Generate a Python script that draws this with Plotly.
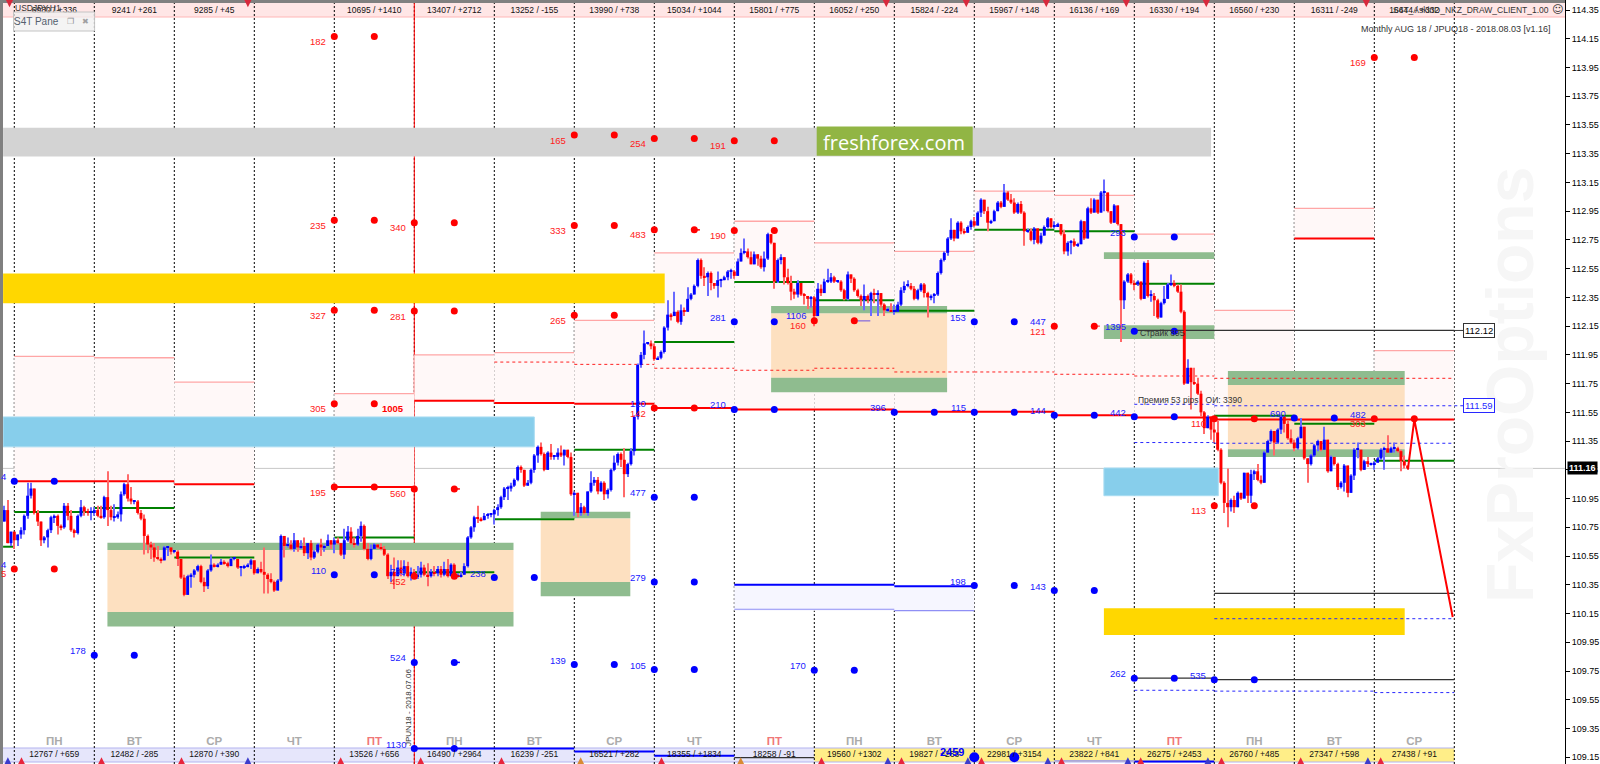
import plotly.graph_objects as go

# ---------- bars (price x 100), hour -3 onward, one row = one day ----------
closes = [
 11087,11064,11072,
 11066,11070,11073,11083,11097,11102,11085,11079,11066,11068,11073,11082,11083,11076,11075,11090,11083,11073,11071,11083,11089,11086,11085,11085,
 11087,11083,11082,11096,11087,11082,11082,11084,11098,11105,11095,11093,11093,11085,11081,11069,11063,11061,11054,11053,11052,11061,11061,11058,
 11058,11053,11040,11028,11041,11042,11045,11048,11037,11034,11045,11049,11048,11049,11051,11050,11048,11053,11053,11047,11047,11048,11049,11052,
 11043,11046,11044,11042,11039,11037,11031,11038,11069,11062,11063,11060,11066,11061,11062,11057,11064,11054,11058,11063,11061,11062,11066,11063,
 11066,11064,11056,11066,11072,11064,11063,11069,11076,11060,11053,11060,11063,11061,11060,11056,11041,11044,11041,11047,11043,11048,11041,11044,
 11041,11042,11047,11042,11041,11044,11043,11046,11042,11046,11041,11049,11041,11041,11042,11048,11068,11075,11082,11081,11080,11083,11084,11084,
 11087,11089,11096,11102,11102,11104,11108,11117,11115,11104,11106,11115,11125,11131,11126,11115,11127,11124,11124,11127,11125,11129,11124,11098,
 11099,11085,11089,11085,11100,11106,11108,11100,11106,11098,11101,11115,11120,11126,11122,11112,11119,11128,11152,11188,11195,11203,11203,11201,
 11192,11193,11197,11214,11223,11222,11225,11218,11226,11225,11234,11237,11243,11261,11250,11249,11252,11245,11243,11247,11247,11249,11253,11253,
 11250,11260,11266,11267,11263,11258,11265,11262,11256,11262,11279,11273,11246,11261,11263,11249,11245,11239,11237,11245,11237,11236,11234,11235,
 11222,11241,11238,11246,11246,11249,11246,11246,11240,11234,11251,11248,11240,11236,11233,11236,11233,11238,11237,11238,11230,11226,11226,11225,
 11225,11230,11240,11243,11243,11241,11234,11240,11244,11238,11235,11236,11237,11252,11261,11266,11276,11282,11276,11287,11281,11280,11284,11288,
 11285,11294,11303,11295,11287,11288,11295,11301,11298,11308,11303,11301,11294,11300,11294,11281,11281,11275,11283,11273,11278,11284,11290,11284,
 11284,11286,11279,11267,11273,11274,11271,11272,11288,11276,11297,11294,11303,11294,11308,11308,11295,11287,11299,11286,11233,11246,11251,11245,
 11244,11246,11234,11259,11236,11236,11233,11221,11231,11234,11244,11245,11243,11239,11225,11175,11186,11176,11175,11168,11155,11144,11152,11143,
 11141,11129,11106,11092,11089,11094,11089,11099,11095,11113,11097,11112,11114,11108,11106,11127,11135,11142,11134,11143,11152,11147,11137,11134,
 11130,11137,11145,11123,11119,11125,11132,11135,11129,11136,11114,11124,11119,11103,11106,11118,11099,11111,11129,11129,11115,11121,11119,11119,
 11120,11123,11129,11130,11127,11130,11130,11128,11121,11118,11116]
highs = [
 11090,11094,11072,
 11072,11070,11075,11084,11106,11106,11102,11087,11079,11069,11074,11083,11084,11084,11077,11092,11092,11087,11074,11084,11094,11090,11088,11089,
 11089,11090,11090,11097,11114,11090,11091,11086,11100,11106,11112,11103,11094,11094,11087,11084,11070,11065,11064,11062,11054,11062,11062,11061,
 11059,11059,11051,11042,11042,11043,11046,11049,11049,11040,11046,11056,11050,11050,11053,11052,11051,11054,11054,11053,11048,11049,11050,11053,
 11052,11047,11051,11061,11043,11043,11038,11039,11070,11068,11068,11066,11071,11065,11066,11068,11064,11066,11059,11064,11067,11063,11070,11066,
 11068,11068,11064,11074,11076,11075,11068,11074,11079,11077,11064,11063,11064,11063,11064,11062,11057,11049,11054,11052,11052,11052,11051,11047,
 11046,11048,11051,11049,11050,11046,11048,11048,11048,11051,11053,11050,11050,11043,11044,11050,11069,11076,11083,11090,11082,11085,11085,11085,
 11088,11091,11097,11103,11104,11106,11109,11118,11118,11115,11108,11116,11126,11132,11134,11127,11128,11133,11125,11130,11132,11129,11129,11127,
 11100,11099,11092,11090,11100,11114,11110,11110,11107,11107,11102,11116,11125,11127,11127,11130,11120,11130,11153,11189,11197,11212,11204,11205,
 11203,11194,11198,11215,11233,11224,11239,11226,11230,11228,11242,11238,11244,11262,11262,11256,11253,11253,11245,11253,11248,11250,11254,11255,
 11254,11262,11269,11276,11269,11267,11267,11265,11264,11267,11280,11279,11273,11262,11265,11263,11255,11250,11241,11247,11245,11238,11236,11236,
 11236,11245,11244,11248,11255,11252,11250,11247,11247,11241,11253,11251,11249,11241,11237,11244,11237,11239,11241,11240,11238,11231,11228,11231,
 11230,11232,11242,11246,11247,11245,11243,11241,11245,11245,11239,11237,11238,11253,11262,11267,11277,11290,11282,11288,11288,11283,11285,11289,
 11291,11295,11304,11303,11298,11289,11296,11302,11302,11314,11309,11307,11304,11301,11302,11295,11283,11283,11284,11283,11280,11285,11291,11290,
 11288,11287,11286,11282,11274,11275,11276,11273,11289,11288,11298,11304,11304,11302,11309,11317,11308,11295,11300,11298,11286,11247,11252,11252,
 11247,11247,11246,11260,11261,11240,11238,11234,11232,11243,11245,11251,11247,11244,11244,11226,11192,11186,11186,11179,11170,11156,11153,11152,
 11150,11149,11130,11107,11116,11095,11097,11100,11099,11113,11113,11115,11115,11119,11111,11128,11136,11143,11141,11144,11153,11152,11149,11143,
 11136,11138,11151,11145,11123,11126,11133,11136,11134,11145,11136,11125,11124,11120,11107,11119,11118,11112,11130,11134,11129,11122,11124,11120,
 11121,11124,11130,11131,11139,11131,11134,11131,11129,11125,11118]
lows = [
 11079,11064,11062,
 11060,11062,11067,11070,11081,11095,11084,11076,11062,11064,11061,11071,11078,11070,11073,11074,11080,11072,11068,11070,11082,11083,11083,11080,
 11083,11082,11081,11081,11076,11080,11079,11081,11079,11097,11093,11091,11091,11084,11080,11056,11057,11053,11051,11052,11050,11054,11055,11056,
 11057,11048,11039,11027,11028,11033,11040,11044,11036,11030,11032,11044,11047,11047,11049,11049,11047,11048,11052,11046,11041,11046,11047,11046,
 11042,11043,11043,11029,11029,11036,11030,11032,11037,11054,11061,11059,11058,11058,11060,11055,11053,11052,11053,11057,11055,11058,11064,11060,
 11057,11063,11055,11053,11065,11063,11061,11062,11065,11059,11052,11052,11060,11060,11059,11055,11039,11037,11032,11041,11041,11041,11040,11038,
 11039,11039,11040,11041,11034,11040,11041,11041,11040,11041,11040,11041,11040,11040,11040,11042,11047,11067,11072,11078,11079,11081,11081,11082,
 11077,11083,11088,11094,11094,11100,11103,11107,11113,11103,11104,11105,11113,11120,11125,11114,11120,11122,11122,11122,11124,11118,11123,11097,
 11083,11082,11083,11084,11083,11099,11104,11098,11101,11094,11095,11100,11114,11118,11117,11096,11110,11118,11125,11150,11186,11192,11202,11199,
 11191,11192,11192,11196,11212,11219,11222,11217,11216,11222,11225,11233,11237,11242,11248,11243,11236,11240,11241,11235,11242,11247,11247,11248,
 11248,11250,11260,11265,11262,11258,11258,11257,11255,11253,11261,11272,11241,11245,11258,11244,11244,11233,11234,11235,11236,11230,11227,11228,
 11215,11222,11236,11238,11245,11245,11245,11245,11239,11233,11233,11245,11239,11235,11229,11226,11231,11222,11231,11222,11228,11222,11225,11225,
 11223,11226,11229,11238,11242,11240,11233,11233,11239,11235,11221,11233,11231,11236,11251,11260,11264,11275,11274,11278,11279,11279,11280,11282,
 11284,11286,11291,11293,11281,11286,11292,11295,11297,11299,11302,11300,11293,11293,11293,11271,11280,11274,11272,11272,11272,11278,11283,11283,
 11283,11284,11278,11265,11264,11265,11270,11270,11272,11275,11276,11293,11294,11293,11294,11295,11294,11286,11287,11285,11204,11227,11245,11244,
 11240,11243,11233,11236,11235,11232,11222,11220,11221,11230,11235,11243,11242,11238,11224,11174,11175,11157,11174,11167,11152,11140,11144,11136,
 11134,11128,11105,11085,11075,11086,11085,11089,11094,11095,11092,11092,11108,11107,11105,11106,11127,11134,11125,11133,11140,11141,11136,11133,
 11128,11129,11137,11122,11106,11118,11124,11128,11128,11129,11113,11114,11118,11101,11102,11100,11096,11099,11108,11123,11114,11115,11117,11118,
 11115,11120,11122,11115,11127,11127,11127,11127,11114,11116,11115]
first_open = 11079

# ---------- day rows ----------
weekdays = ["ПН","ВТ","СР","ЧТ","ПТ","ПН","ВТ","СР","ЧТ","ПТ","ПН","ВТ","СР","ЧТ","ПТ","ПН","ВТ","СР"]
top_labels = ["6980 / +336","9241 / +261","9285 / +45","","10695 / +1410","13407 / +2712","13252 / -155","13990 / +738",
              "15034 / +1044","15801 / +775","16052 / +250","15824 / -224","15967 / +148","16136 / +169","16330 / +194",
              "16560 / +230","16311 / -249","16644 / +332"]
bottom_labels = ["12767 / +659","12482 / -285","12870 / +390","","13526 / +656","16490 / +2964","16239 / -251","16521 / +282",
                 "18355 / +1834","18258 / -91","19560 / +1302","19827 / +268","22981 / +3154","23822 / +841","26275 / +2453",
                 "26760 / +485","27347 / +598","27438 / +91"]
arrow_up_red_k = [0.09,1.09,2.09,4.08,5.08,6.09,8.09,10.09,11.09,12.09,13.09,14.08,15.09,16.08,17.08]
arrow_up_blue_k = [-0.08,2.92,10.92,11.92,12.92,13.92,14.92,16.92]
arrow_up_orange_k = [7.08,9.08]
arrow_down_k = [-0.06,2.92,10.9,11.9,12.9,13.9,14.9,16.9]

# ---------- option dots: each level has a dot at day k and k+0.5 ----------
red_k = [4,4,4,4,4,5,5,5,5,7,7,7,8,8,8,9,9,10,13,15,15,17,17,0]
red_p = [114.165,112.887,112.26,111.61,111.03,112.87,112.255,111.017,110.41,113.48,112.85,112.225,113.455,112.82,111.58,
         113.44,112.815,112.187,112.15,111.505,110.90,114.02,111.505,110.46]
red_lbl = ["182","235","327","305","195","340","281","560","452","165","333","265","254","483","142","191","190","160",
           "121","110","113","169","303","5"]
blue_k = [0,1,4,5,5,6,7,8,8,8,9,9,10,11,12,12,12,13,13,14,14,14,14,15,16]
blue_p = [111.07,109.86,110.42,109.81,109.21,110.40,109.795,109.76,110.96,110.37,112.18,111.57,109.755,111.55,112.18,111.55,
          110.345,111.53,110.31,112.77,112.115,111.52,109.70,109.69,111.51]
blue_lbl = ["4","178","110","524","1130","238","139","105","477","279","281","210","170","396","153","115","198","144","143",
            "293","1395","442","262","535","690"]
extra_blue_k = [10,13,17,5,8,0]
extra_blue_p = [112.19,112.15,111.505,110.41,111.58,110.46]
extra_blue_lbl = ["1106","447","482","733","120","4"]
big_dot_k = [12,12.5]
big_dot_p = [109.15,109.15]
tail_k = [5.5,5.5,5.5,8.5,10.5,13.5]
tail_p = [111.017,110.41,109.81,112.82,112.187,112.15]
tail_len = [0.07,0.07,0.07,0.07,0.2,0.07]
tail_col = ["#ff0000","#ff0000","#0000ff","#ff0000","#9a7fd8","#ff6060"]

# ---------- day segments ----------
red_seg = [(0,2,111.07),(2,3,111.05),(4,5,111.03),(5,6,111.63),(6,7,111.615),(7,8,111.61),(8,9,111.58),(9,11,111.57),
           (11,13,111.555),(13,14,111.53),(14,15,111.515),(15,18,111.50),(16,17,112.76)]
green_seg = [(-0.14,0,110.615),(0,1,110.857),(1,2,110.885),(2,3,110.54),(4,5,110.68),(5,6,110.437),(6,7,110.807),(7,8,111.29),
             (8,9,112.04),(9,10,112.457),(10,11,112.33),(11,12,112.257),(12,13,112.82),(13,14,112.81),(14,15,112.445),
             (15,16,111.527),(16,17,111.47),(17,18,111.214)]
pale_k = [0,1,2,4,5,6,7,8,9,10,11,12,13,14,15,16,17]
pale_top = [111.94,111.93,111.76,111.68,111.95,111.965,112.19,112.66,112.88,112.73,112.67,113.09,113.06,112.79,112.26,112.97,111.98]
pale_bot = [111.07,111.07,111.05,111.03,111.63,111.615,111.61,111.58,111.57,111.57,111.555,111.555,111.53,111.515,111.50,112.76,111.50]
red_dash = [(6,7,111.90),(7,8,111.884),(8,9,111.857),(9,10,111.843),(10,11,111.857),(11,12,111.831),(12,13,111.831),
            (13,14,111.815),(14,15,111.803),(15,18,111.787)]
blue_dash = [(14,15,111.606),(15,18,111.596),(14,15,111.34),(15,18,111.335),(15,18,110.114),(14,15,109.616),(15,17,109.61),(17,18,109.60)]
black_seg = [(14,18,112.12),(15,18,110.29),(16,17,111.50),(14,15,109.70),(15,18,109.69),(9,10,109.147)]
blue_thick = [(5,7,109.21),(7,8,109.19),(8,9,109.16),(9,11,110.35),(11,12,110.34),(14,15,109.12)]
blue_thin = [(9,11,110.18),(11,12,110.17),(13,14,109.125)]

# ---------- zones ----------
gray_zone = (-0.14,14.96,113.53,113.33)
gold_zones = [(-0.14,8.13,112.516,112.31),(13.62,17.38,110.187,110.0)]
sky_zones = [(-0.14,6.5,111.518,111.31),(13.62,15.05,111.163,110.97)]
bisque_zones = [(1.164,6.24,110.592,110.16),(6.58,7.7,110.813,110.37),(9.46,11.66,112.239,111.79),(15.17,17.38,111.74,111.293)]
green_zones = [(1.164,6.24,110.643,110.592),(1.164,6.24,110.16,110.06),(6.58,7.7,110.859,110.813),(6.58,7.7,110.37,110.27),
               (9.46,11.66,112.29,112.239),(9.46,11.66,111.79,111.69),(15.17,17.38,111.838,111.74),(15.17,17.38,111.293,111.24),
               (13.62,15.0,112.664,112.617),(13.62,15.0,112.156,112.06)]
lilac_zone = (9,12,110.35,110.17)
zig_k = [17.42,17.5,17.98]
zig_p = [111.154,111.50,110.126]
last_price = 111.16
strike_tag = 112.12
premium_tag = 111.59

# ---------- geometry of the picture ----------
W, H = 1600, 764
L, R = 3, 1565
PX_PER_HOUR = 80/24
X0 = 14.3
def hr_of_px(px): return (px-X0)/PX_PER_HOUR
def price_of_py(py): return 114.35-(py-10)/143.7
def xp(px): return (px-L)/(R-L)
def yp(py): return 1-py/H
def D(k): return 24*k

FONT = "Liberation Sans"
hours = list(range(-3,-3+len(closes)))
assert len(closes)==len(highs)==len(lows)
opens = [first_open]+closes[:-1]
body_low = [min(a,b)/100 for a,b in zip(opens,closes)]
body_h = [max(abs(a-b)/100,0.008) for a,b in zip(opens,closes)]
wick_low = [min(a,b,d)/100 for a,b,d in zip(lows,opens,closes)]
wick_h = [(max(a,b,d)-min(e,b,d))/100 for a,e,b,d in zip(highs,lows,opens,closes)]
body_col = ["#0000ff" if b>=a else "#ff0000" for a,b in zip(opens,closes)]
wick_col = ["#6a6aff" if b>=a else "#ff6a6a" for a,b in zip(opens,closes)]

shapes=[]
def rect(k0,k1,p0,p1,fill,layer="below",line=None,lw=0):
    shapes.append(dict(type="rect",xref="x",yref="y",x0=D(k0),x1=D(k1),y0=p0,y1=p1,fillcolor=fill,layer=layer,
                       line=dict(width=lw,color=line or fill)))
def pxrect(x0,x1,y0,y1,fill,line=None,lw=0,layer="below"):
    shapes.append(dict(type="rect",xref="paper",yref="paper",x0=xp(x0),x1=xp(x1),y0=yp(y0),y1=yp(y1),fillcolor=fill,layer=layer,
                       line=dict(width=lw,color=line or fill)))
def seg(k0,k1,p,color,w=1,dash="solid"):
    shapes.append(dict(type="line",xref="x",yref="y",x0=D(k0),x1=D(k1),y0=p,y1=p,layer="below",line=dict(color=color,width=w,dash=dash)))

# pale day boxes
for k,t,b in zip(pale_k,pale_top,pale_bot):
    rect(k,k+1,b,t,"#fff8f8")
    seg(k,k+1,t,"#ffa6a6",1.3)
# zones
rect(*gray_zone,"#d3d3d3")
for z in gold_zones: rect(*z,"#ffd700")
for z in sky_zones: rect(*z,"#87ceeb",line="#a8dcf2",lw=1)
for z in bisque_zones: rect(*z,"#fde0c0")
for z in green_zones: rect(*z,"#8fbc8f")
rect(*lilac_zone,"#f6f6ff")
# strips
pxrect(L,R,3,17,"#ffe6e6")
shapes.append(dict(type="line",xref="paper",yref="paper",x0=0,x1=1,y0=yp(17),y1=yp(17),layer="below",line=dict(color="#ffb6b6",width=1.2)))
x10=X0+80*10; x18=X0+80*18
pxrect(L,x10,748,762,"#e6e6fb")
pxrect(x10,x18,748,762,"#ffee88")
for y_ in (748,762):
    shapes.append(dict(type="line",xref="paper",yref="paper",x0=0,x1=xp(x18),y0=yp(y_),y1=yp(y_),layer="below",line=dict(color="#b4b4f0",width=1.2)))
# last price line
shapes.append(dict(type="line",xref="paper",x0=0,x1=1,yref="y",y0=last_price,y1=last_price,layer="below",line=dict(color="#c8c8c8",width=1)))
# day separators
for k in range(0,19):
    shapes.append(dict(type="line",xref="x",yref="paper",x0=D(k),x1=D(k),y0=0,y1=yp(3),layer="below",
                       line=dict(color="#000000",width=1,dash="2px,2px")))
# levels
for a,b,p in red_dash: seg(a,b,p,"#ff2020",1,"3px,3px")
for a,b,p in blue_dash: seg(a,b,p,"#2828ff",1,"3px,3px")
seg(18,hr_of_px(1465)/24,112.12,"#333333",1)
seg(18,hr_of_px(1465)/24,111.596,"#2828ff",1,"3px,3px")
for a,b,p in black_seg: seg(a,b,p,"#333333",1.2)
for a,b,p in blue_thick: seg(a,b,p,"#0000ff",2)
for a,b,p in blue_thin: seg(a,b,p,"#8f8ff5",1.2)
for a,b,p in green_seg: seg(a,b,p,"#008000",2)
for a,b,p in red_seg: seg(a,b,p,"#ff0000",2)
# red expiry line
shapes.append(dict(type="line",xref="x",yref="paper",x0=D(5),x1=D(5),y0=0,y1=yp(3),layer="below",line=dict(color="#ff0000",width=1)))
# frame bits
pxrect(-3,L,0,H,"#808080")
pxrect(-3,R,0,3,"#808080")
# freshforex badge and pane
rect(10.03,11.98,113.54,113.335,"#91b544")
pxrect(13.5,94.6,12,31,"rgba(240,240,240,0.75)",line="#c4c4c4",lw=1,layer="above")

fig=go.Figure()
fig.add_trace(go.Bar(x=hours,y=wick_h,base=wick_low,width=0.33,marker=dict(color=wick_col,line=dict(width=0)),hoverinfo="skip"))
fig.add_trace(go.Bar(x=hours,y=body_h,base=body_low,width=0.88,marker=dict(color=body_col,line=dict(width=0)),hoverinfo="skip"))
# zigzag
fig.add_trace(go.Scatter(x=[D(k) for k in zig_k],y=zig_p,mode="lines",line=dict(color="#ff0000",width=2)))
# tails
for k,p,l,col in zip(tail_k,tail_p,tail_len,tail_col):
    fig.add_trace(go.Scatter(x=[D(k),D(k+l)],y=[p,p],mode="lines",line=dict(color=col,width=1.5)))
# dots
def dots(ks,ps,color,size=7):
    xs=[];ys=[]
    for k,p in zip(ks,ps):
        xs+=[D(k),D(k+0.5)]; ys+=[p,p]
    fig.add_trace(go.Scatter(x=xs,y=ys,mode="markers",marker=dict(color=color,size=size,line=dict(width=0))))
dots(blue_k,blue_p,"#0000ff")
dots(red_k,red_p,"#ff0000")
fig.add_trace(go.Scatter(x=[D(k) for k in big_dot_k],y=big_dot_p,mode="markers",marker=dict(color="#0000ff",size=10)))
# strip arrows
def arrows(ks,y,color,sym):
    fig.add_trace(go.Scatter(x=[D(k) for k in ks],y=[y]*len(ks),mode="markers",
                             marker=dict(color=color,size=8,symbol=sym,line=dict(width=0))))
arrows(arrow_up_red_k,109.15,"#e8243c","arrow-up")
arrows(arrow_up_blue_k,109.15,"#3c3ccc","arrow-up")
arrows(arrow_up_orange_k,109.15,"#d88a34","arrow-up")
arrows(arrow_down_k,114.37,"#d8283c","arrow-down")
# day text rows
mid=[D(k+0.5) for k in range(18)]
fig.add_trace(go.Scatter(x=mid,y=[price_of_py(10.5)]*18,mode="text",text=top_labels,textfont=dict(family=FONT,size=8.5,color="#111111")))
fig.add_trace(go.Scatter(x=mid,y=[price_of_py(755)]*18,mode="text",text=bottom_labels,textfont=dict(family=FONT,size=8.5,color="#111111")))
fig.add_trace(go.Scatter(x=mid,y=[price_of_py(742)]*18,mode="text",text=weekdays,
    textfont=dict(family=FONT,size=11.5,color=["#f07878" if w=="ПТ" else "#ababab" for w in weekdays],weight="bold")))

ann=[]
def note(x,y,text,color="#222222",size=8.5,bold=False,xref="x",yref="y",anchor="center",**kw):
    t=f"<b>{text}</b>" if bold else text
    ann.append(dict(x=x,y=y,xref=xref,yref=yref,text=t,showarrow=False,xanchor=anchor,yanchor="middle",
                    font=dict(family=kw.pop("family",FONT),size=size,color=color),**kw))
# watermark first so everything sits over it
note(xp(1510),yp(385),"FxProOptions","#f6f6f6",66,True,"paper","paper",textangle=-90)
for k,p,t in zip(red_k,red_p,red_lbl):
    note(D(k),p,t,"#ff2020",9.5,anchor="right",xshift=-6,yshift=-5)
for k,p,t in zip(blue_k,blue_p,blue_lbl):
    note(D(k),p,t,"#2020ff",9.5,anchor="right",xshift=-6,yshift=4.5)
for k,p,t in zip(extra_blue_k,extra_blue_p,extra_blue_lbl):
    note(D(k),p,t,"#2020ff",9.5,anchor="right",xshift=-6,yshift=4.5)
note(hr_of_px(393),111.58,"1005","#ff0000",9.5,True)
note(hr_of_px(952),price_of_py(752),"2459","#0000ff",11,True)
note(hr_of_px(1162),price_of_py(333),"Страйк 895","#333333",8.5)
note(hr_of_px(1190),price_of_py(400),"Премия 53 pips &nbsp; ОИ: 3390","#333333",8.5)
note(D(11),113.43,"freshforex.com","#ffffff",20,family="Open Sans")
note(xp(408),yp(708),"JPUN18 - 2018.07.06","#333333",8,False,"paper","paper",textangle=-90)
note(xp(38),yp(8),"USDJPY,H1","#333333",8.5,False,"paper","paper")
note(xp(36),yp(22),"S4T Pane","#55606e",10,False,"paper","paper")
note(xp(70),yp(22),"❐","#909090",8,False,"paper","paper",family="DejaVu Sans")
note(xp(85),yp(22),"✖","#a0a0a0",8,False,"paper","paper",family="DejaVu Sans")
note(xp(1551),yp(10),"S4T_AskinD_NKZ_DRAW_CLIENT_1.00","#333333",8.5,False,"paper","paper",anchor="right")
note(xp(1557),yp(10),"☺","#333333",11,False,"paper","paper",family="DejaVu Sans")
note(xp(1553),yp(29),"Monthly AUG 18 / JPUQ18 - 2018.08.03 [v1.16]","#333333",9,False,"paper","paper",anchor="right")
note(hr_of_px(1479),strike_tag,f"{strike_tag:.2f}","#000000",9.5,bgcolor="#ffffff",bordercolor="#333333",borderwidth=1,borderpad=1)
note(hr_of_px(1479),111.596,f"{premium_tag:.2f}","#2828ff",9.5,bgcolor="#ffffff",bordercolor="#2828ff",borderwidth=1,borderpad=1)
note(xp(1582),last_price,f"{last_price:.2f}","#ffffff",9,True,"paper","y",bgcolor="#000000",borderpad=1)

fig.update_layout(
    width=W,height=H,margin=dict(l=L,r=W-R,t=0,b=0),autosize=False,barmode="overlay",
    paper_bgcolor="#ffffff",plot_bgcolor="#ffffff",showlegend=False,
    shapes=shapes,annotations=ann,
    xaxis=dict(range=[hr_of_px(L),hr_of_px(R)],showgrid=False,zeroline=False,showticklabels=False,ticks="",fixedrange=True),
    yaxis=dict(range=[price_of_py(H),price_of_py(0)],side="right",showgrid=False,zeroline=False,tick0=109.15,dtick=0.2,
               tickformat=".2f",ticks="outside",ticklen=4,tickcolor="#000000",showline=True,linecolor="#000000",linewidth=1,
               tickfont=dict(family=FONT,size=9,color="#000000"),fixedrange=True,automargin=False),
)
fig.write_html("out.html",config=dict(displayModeBar=False),post_script="document.body.style.margin='0';document.body.style.overflow='hidden';")
